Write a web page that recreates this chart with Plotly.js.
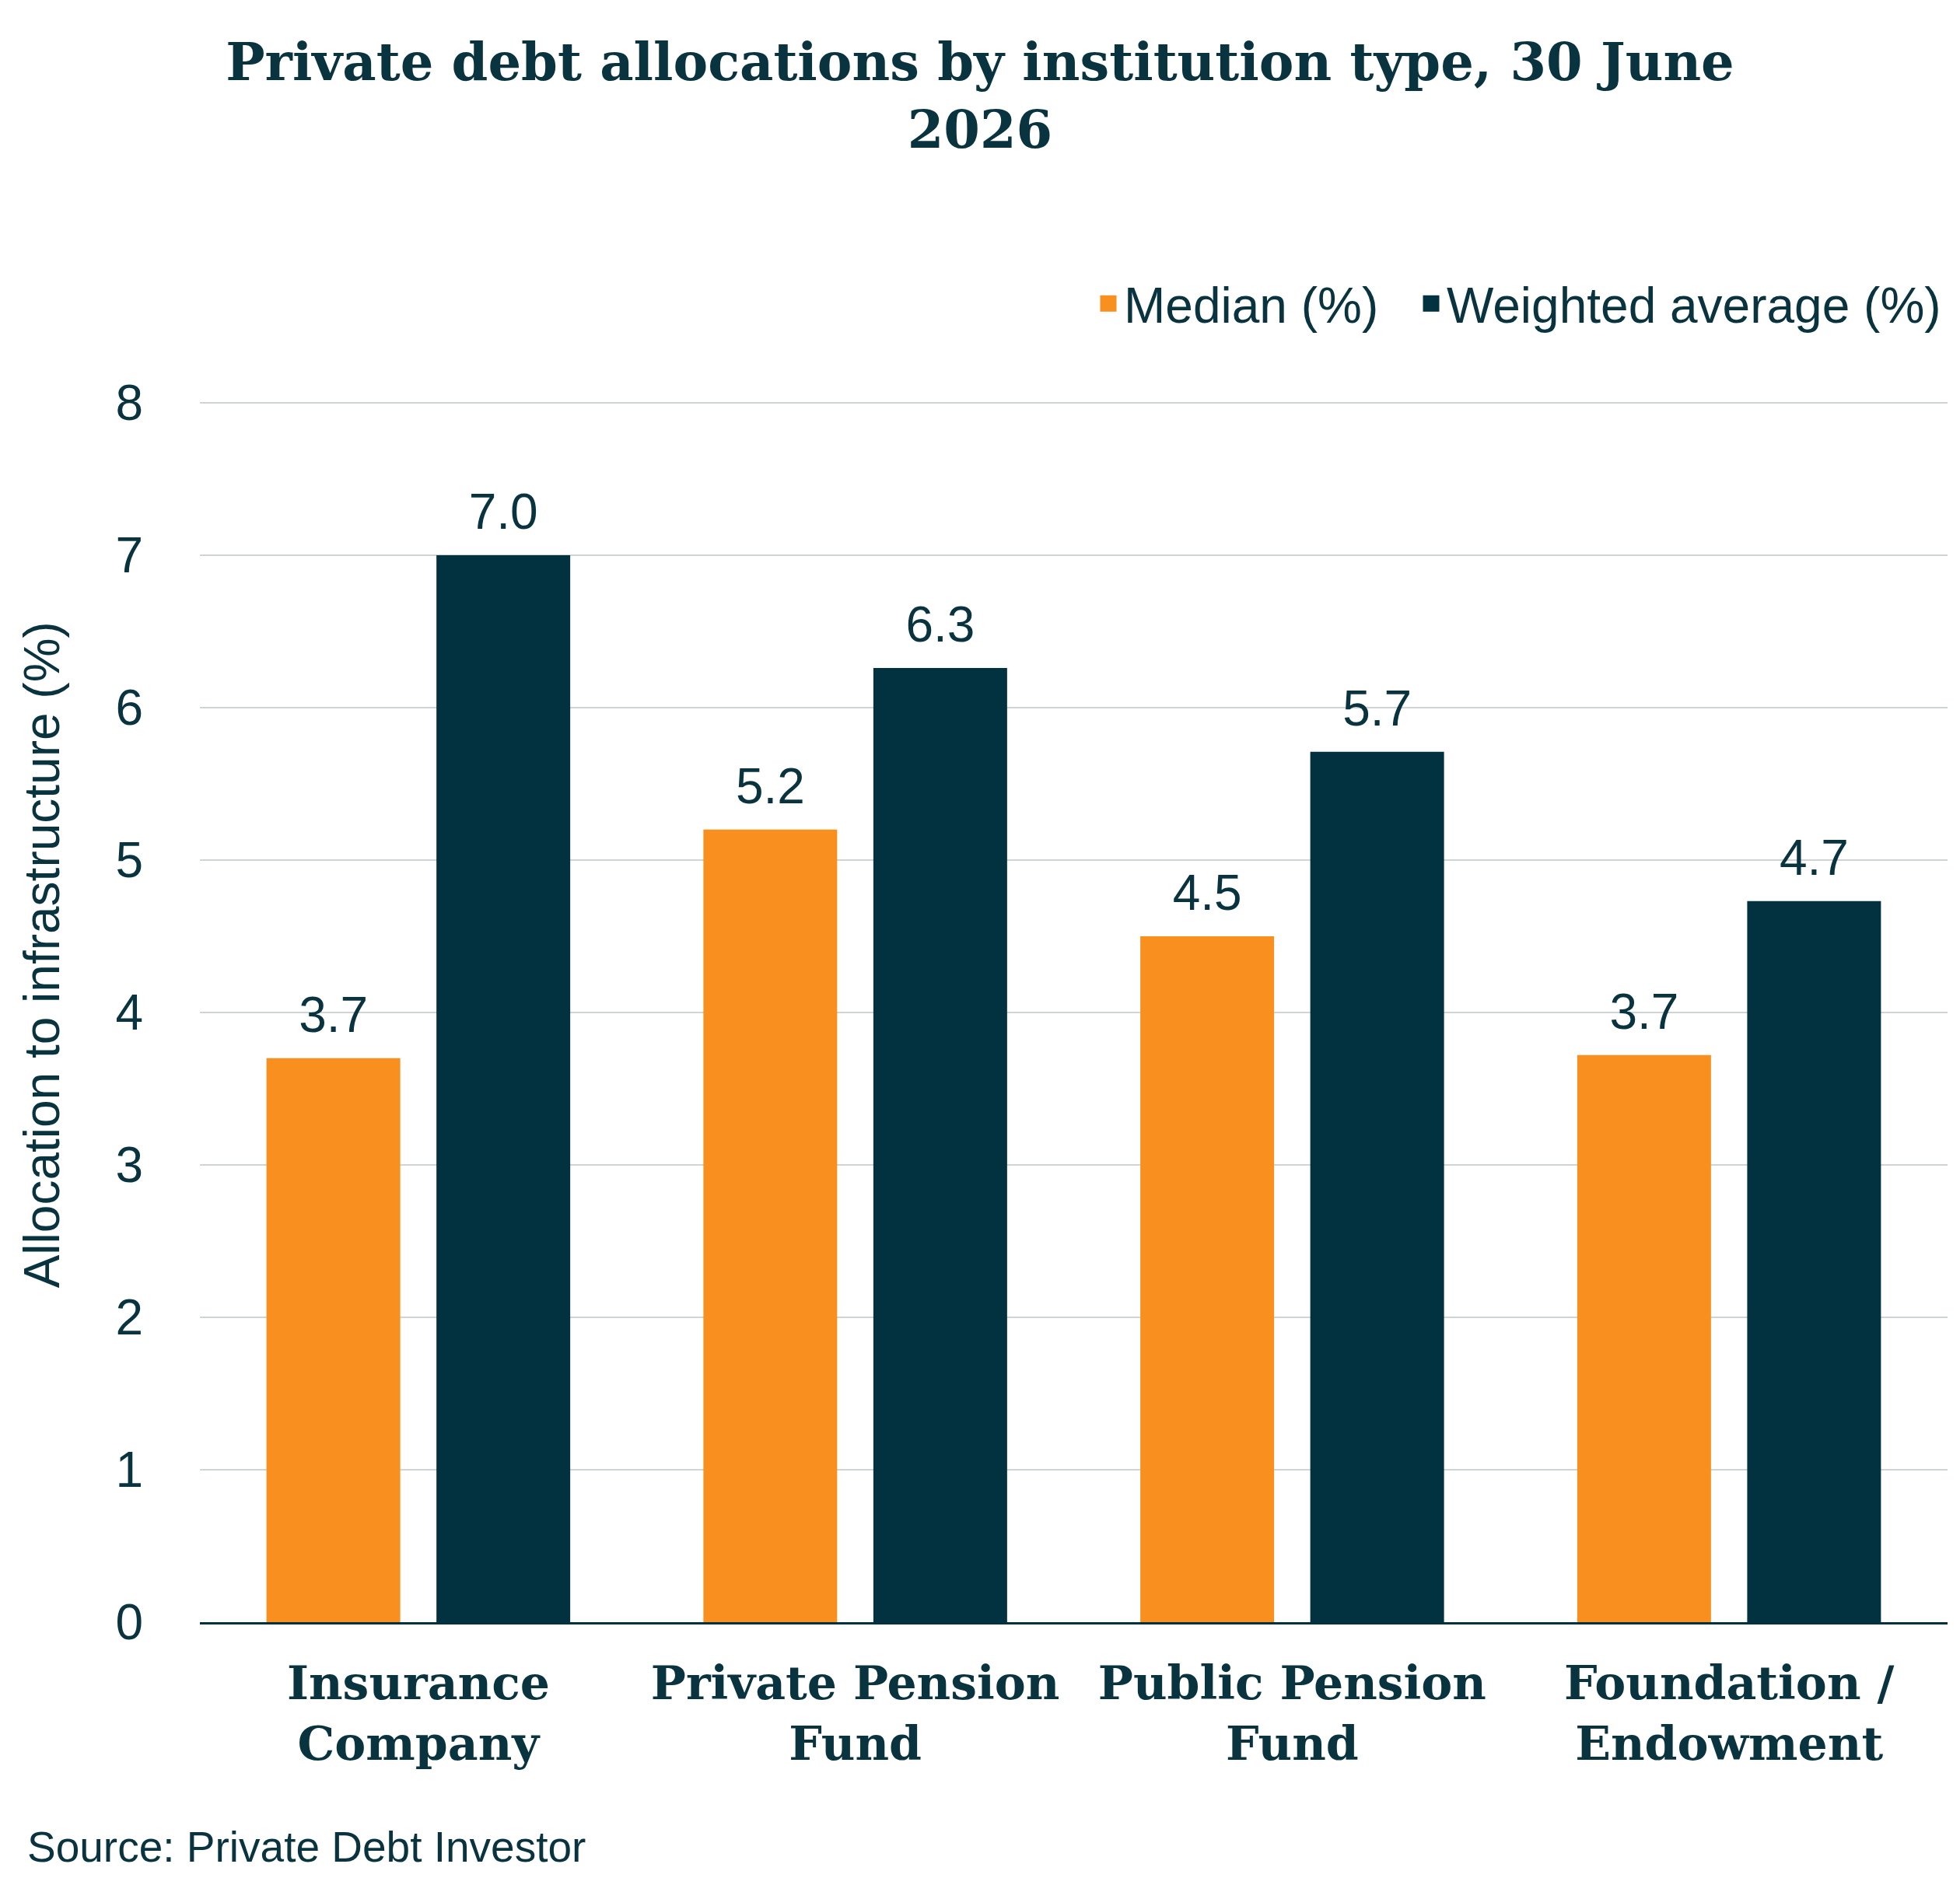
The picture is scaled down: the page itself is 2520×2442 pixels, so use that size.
<!DOCTYPE html>
<html>
<head>
<meta charset="utf-8">
<script src="https://cdn.plot.ly/plotly-3.0.1.min.js"></script>
<style>html,body{margin:0;padding:0;background:#fff;}#chart{width:2520px;height:2442px;}</style>
</head>
<body>
<div id="chart"></div>
<script>
// ---- data ----
var categories = ["Insurance<br>Company", "Private Pension<br>Fund", "Public Pension<br>Fund", "Foundation /<br>Endowment"];
var medianValues = [3.7, 5.2, 4.5, 3.72];
var weightedValues = [7.0, 6.26, 5.71, 4.73];
var seriesNames = ["Median (%)", "Weighted average (%)"];
var yTickValues = [0, 1, 2, 3, 4, 5, 6, 7, 8];

var ORANGE = "#F98F1F";
var DARK = "#02323F";
var TEXT = "#08333F";
var SANS = "Liberation Sans, Arial, sans-serif";
var SERIF = "DejaVu Serif, serif";
var LABEL_FONT = {family: SANS, size: 64, color: TEXT};

function barTrace(values, name, color) {
  return {type: "bar", x: categories, y: values, name: name,
          marker: {color: color}, showlegend: false, hoverinfo: "skip"};
}
function labelTrace(values, name) {
  return {type: "scatter", mode: "markers+text", x: categories, y: values, name: name,
          text: values.map(function (v) { return v.toFixed(1); }),
          textposition: "top center", textfont: LABEL_FONT, cliponaxis: false,
          marker: {size: 27, color: "rgba(0,0,0,0)"}, showlegend: false, hoverinfo: "skip"};
}
function legendTrace(name, color, legendId) {
  return {type: "scatter", mode: "markers", x: [categories[0]], y: [null], name: name,
          xaxis: "x2", yaxis: "y2", hoverinfo: "skip", legend: legendId,
          marker: {symbol: "square", size: 16, color: color, line: {color: color, width: 5}}};
}

var traces = [
  barTrace(medianValues, seriesNames[0], ORANGE),
  barTrace(weightedValues, seriesNames[1], DARK),
  labelTrace(medianValues, seriesNames[0]),
  labelTrace(weightedValues, seriesNames[1]),
  legendTrace(seriesNames[0], ORANGE, "legend"),
  legendTrace(seriesNames[1], DARK, "legend2")
];

var legendStyle = function (x) {
  return {orientation: "h", x: x, xanchor: "left", y: 1.0785, yanchor: "middle",
          font: {family: SANS, size: 64, color: TEXT}, itemsizing: "trace",
          bgcolor: "rgba(0,0,0,0)"};
};

var layout = {
  width: 2520, height: 2442,
  margin: {l: 257, r: 16, t: 514, b: 356, pad: 0},
  paper_bgcolor: "#ffffff", plot_bgcolor: "#ffffff",
  title: {
    text: "Private debt allocations by institution type, 30 June<br>2026",
    font: {family: SERIF, size: 67, color: TEXT, weight: "bold"},
    x: 0.5, xanchor: "center", xref: "container",
    y: 0.958, yanchor: "top", yref: "container"
  },
  barmode: "group", bargap: 0.222, bargroupgap: 0.213,
  scattermode: "group",
  xaxis: {
    type: "category", categoryorder: "array", categoryarray: categories,
    showline: true, linecolor: DARK, linewidth: 3,
    showgrid: false, zeroline: false, ticks: "",
    ticklabelstandoff: 24,
    tickfont: {family: SERIF, size: 60, color: TEXT, weight: "bold"}
  },
  yaxis: {
    range: [0, 8.02], tickvals: yTickValues, ticktext: yTickValues.map(String),
    showgrid: true, gridcolor: "#CFD4D7", gridwidth: 2.3,
    zeroline: false, showline: false, ticks: "",
    ticklabelstandoff: 72,
    tickfont: {family: SANS, size: 64, color: TEXT}
  },
  xaxis2: {overlaying: "x", visible: false},
  yaxis2: {overlaying: "y", visible: false, range: [0, 1]},
  legend: legendStyle(0.5109),
  legend2: legendStyle(0.6956),
  annotations: [
    {
      text: "Allocation to infrastructure (%)", showarrow: false, textangle: -90,
      xref: "paper", yref: "paper", x: -0.0905, y: 0.546,
      xanchor: "center", yanchor: "middle",
      font: {family: SANS, size: 64, color: TEXT}
    },
    {
      text: "Source: Private Debt Investor", showarrow: false,
      xref: "paper", yref: "paper", x: -0.0995, y: -0.184,
      xanchor: "left", yanchor: "middle",
      font: {family: SANS, size: 55, color: TEXT}
    }
  ],
  showlegend: true
};

Plotly.newPlot("chart", traces, layout, {staticPlot: true});
</script>
</body>
</html>
